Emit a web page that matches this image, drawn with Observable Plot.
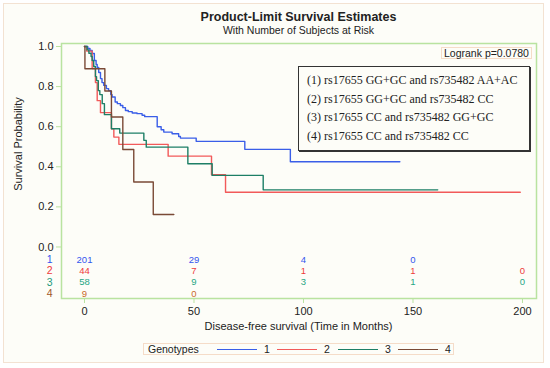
<!DOCTYPE html>
<html><head><meta charset="utf-8">
<script src="https://cdn.jsdelivr.net/npm/d3@7"></script>
<script src="https://cdn.jsdelivr.net/npm/@observablehq/plot@0.6"></script>
<style>
body{margin:0;background:#fff;}
#wrap{position:relative;width:550px;height:368px;font-family:"Liberation Sans",Arial,sans-serif;color:#222;}
#bg{position:absolute;left:3px;top:3px;width:541px;height:360px;border:1px solid #f3e2d2;background:#fdfdf8;box-sizing:border-box;}
#chart{position:absolute;left:0;top:0;}
.abs{position:absolute;white-space:nowrap;}
#title{left:0;width:597px;top:10px;text-align:center;font-weight:bold;font-size:12.5px;}
#subtitle{left:0;width:597px;top:24px;text-align:center;font-size:10.5px;}
#ylab{left:18px;top:144px;font-size:11px;transform:translate(-50%,-50%) rotate(-90deg);}
#xlab{left:0;width:597px;top:320px;text-align:center;font-size:11px;}
#logrank{left:441px;top:47px;width:91px;height:12px;border:1px solid #f5dcc8;box-sizing:border-box;font-size:10.5px;line-height:11px;text-align:center;}
#legbox{left:298px;top:66px;width:232px;height:85px;border:1px solid #333;box-shadow:1px 1px 0 #333;box-sizing:border-box;font-family:"Liberation Serif","Times New Roman",serif;font-size:12px;}
#legbox div{position:absolute;left:8px;}
#genleg{left:143px;top:343px;width:311px;height:12px;border:1px solid #f5dcc8;box-sizing:border-box;font-size:10.5px;}
#genleg span{position:absolute;top:-1px;line-height:12px;}
#genleg b{position:absolute;top:5px;height:1.4px;width:40px;}
</style></head><body>
<div id="wrap">
<div id="bg"></div>
<div id="chart"></div>
<div class="abs" id="title">Product-Limit Survival Estimates</div>
<div class="abs" id="subtitle">With Number of Subjects at Risk</div>
<div class="abs" id="ylab">Survival Probability</div>
<div class="abs" id="xlab">Disease-free survival (Time in Months)</div>
<div class="abs" id="logrank">Logrank p=0.0780</div>
<div class="abs" id="legbox"></div>
<div class="abs" id="genleg"></div>
</div>
<script>
const groups = ["1", "2", "3", "4"];
const legendLabels = [
  "(1) rs17655 GG+GC and rs735482 AA+AC",
  "(2) rs17655 GG+GC and rs735482 CC",
  "(3) rs17655 CC and rs735482 GG+GC",
  "(4) rs17655 CC and rs735482 CC"
];
const lineColors = ["#3a5ee8", "#f25a5a", "#1d7f66", "#7a4a36"];
const riskColors = ["#3355ee", "#ee3b3b", "#1fa684", "#c8692a"];
const rowLabelColors = ["#3355ee", "#ee3b3b", "#1f9a7c", "#a0582a"];

// Kaplan-Meier step values (time in months, survival probability)
const g1Time = [0, 1.5, 2.5, 3.5, 4.5, 5.3, 5.8, 6.5, 7.3, 8, 8.8, 10, 11, 12, 12.6, 14, 15, 16.4, 17.5, 18.7, 20, 21.8, 24, 26.3, 27.5, 33.2, 35, 36.2, 40, 43, 43.8, 51, 73.2, 94];
const g1Surv = [1, 0.99, 0.98, 0.965, 0.93, 0.91, 0.895, 0.87, 0.84, 0.82, 0.806, 0.79, 0.78, 0.76, 0.748, 0.723, 0.715, 0.706, 0.695, 0.681, 0.675, 0.668, 0.665, 0.657, 0.65, 0.6, 0.585, 0.573, 0.565, 0.551, 0.543, 0.527, 0.487, 0.425];
const g1End = 144;

const g2Time = [0, 1, 3.5, 5, 5.8, 7.3, 12.3, 13.4, 15.7, 38.2, 58, 64.4];
const g2Surv = [1, 0.977, 0.89, 0.82, 0.73, 0.67, 0.59, 0.548, 0.512, 0.453, 0.36, 0.273];
const g2End = 199;

const g3Time = [0, 1.2, 2, 3, 3.5, 4.2, 5, 5.5, 6.3, 7, 8.1, 9.1, 12.3, 16.1, 27.1, 28.2, 47.2, 58.3, 81.6];
const g3Surv = [1, 0.983, 0.966, 0.95, 0.93, 0.9, 0.85, 0.83, 0.78, 0.76, 0.715, 0.66, 0.59, 0.568, 0.532, 0.498, 0.415, 0.357, 0.285];
const g3End = 161.3;

const g4Time = [0, 0.2, 9.3, 12.3, 17.5, 22.5, 31.4];
const g4Surv = [1, 0.889, 0.778, 0.648, 0.486, 0.324, 0.162];
const g4End = 40.8;

// Number of subjects at risk
const riskTimes = [0, 50, 100, 150, 200];
const risk1 = [201, 29, 4, 0, null];
const risk2 = [44, 7, 1, 1, 0];
const risk3 = [58, 9, 3, 1, 0];
const risk4 = [9, 0, null, null, null];

const xTicks = [0, 50, 100, 150, 200];
const yTicks = [0, 0.2, 0.4, 0.6, 0.8, 1.0];

const series = [[g1Time, g1Surv, g1End], [g2Time, g2Surv, g2End], [g3Time, g3Surv, g3End], [g4Time, g4Surv, g4End]];
const curves = [];
series.forEach(([T, S, end], gi) => {
  T.forEach((t, i) => curves.push({g: groups[gi], t, s: S[i]}));
  curves.push({g: groups[gi], t: end, s: S[S.length - 1]});
});
const risks = [risk1, risk2, risk3, risk4];
const rowY = i => -0.064 - 0.0563 * i;

const marks = [
  Plot.frame({stroke: "#b9e3a0", strokeWidth: 1.5}),
  Plot.axisX({ticks: xTicks, tickSize: 5, tickPadding: 4, stroke: "#b9e3a0", fill: "#222", label: null}),
  Plot.axisY({ticks: yTicks, tickSize: 5, tickPadding: 3, tickFormat: d3.format(".1f"), stroke: "#b9e3a0", fill: "#222", label: null}),
  Plot.line(curves, {x: "t", y: "s", z: "g", stroke: "g", strokeWidth: 1.4, curve: "step-after"})
];
risks.forEach((r, gi) => {
  const rows = r.map((n, i) => ({t: riskTimes[i], n})).filter(d => d.n !== null);
  marks.push(Plot.text(rows, {x: "t", y: () => rowY(gi), text: d => String(d.n), fill: riskColors[gi], fontSize: 9.5}));
  marks.push(Plot.text([groups[gi]], {frameAnchor: "left", y: () => rowY(gi), text: d => d, dx: -9, textAnchor: "end", fill: rowLabelColors[gi], fontSize: 10.5}));
});

const chart = Plot.plot({
  width: 550, height: 368,
  marginLeft: 61, marginRight: 14, marginTop: 43, marginBottom: 70,
  style: {background: "transparent", fontSize: "11px", fontFamily: "'Liberation Sans', Arial, sans-serif"},
  x: {domain: [-10.5, 206.4], axis: null},
  y: {domain: [-0.257, 1.015], axis: null},
  color: {domain: groups, range: lineColors},
  marks
});
document.getElementById("chart").appendChild(chart);

const lb = document.getElementById("legbox");
legendLabels.forEach((s, i) => {
  const d = document.createElement("div");
  d.textContent = s;
  d.style.top = (6 + 18.7 * i) + "px";
  lb.appendChild(d);
});
const gl = document.getElementById("genleg");
gl.innerHTML = '<span style="left:4px">Genotypes</span>';
const lineLefts = [73, 133, 194, 254];
groups.forEach((g, i) => {
  const l = document.createElement("b");
  l.style.left = lineLefts[i] + "px";
  l.style.background = lineColors[i];
  gl.appendChild(l);
  const s = document.createElement("span");
  s.style.left = (lineLefts[i] + 47) + "px";
  s.textContent = g;
  gl.appendChild(s);
});
</script>
</body></html>
